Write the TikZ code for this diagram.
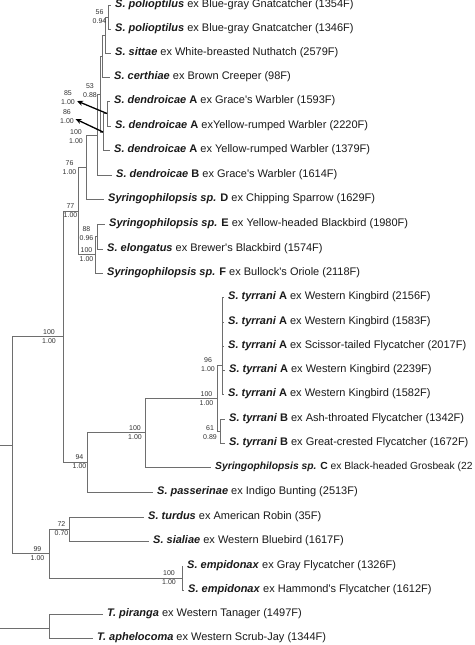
\documentclass[tikz,border=0pt]{standalone}
\usepackage{fontspec}
\setmainfont{Liberation Sans}
\usetikzlibrary{arrows.meta}
\newcommand\spn[1]{\textbf{\textit{#1}}}
\newcommand\cla[1]{\textbf{#1}}
\newcommand\apo{\textquotesingle}
\definecolor{branchgray}{HTML}{6E6E6E}
\definecolor{txt}{HTML}{1A1A1A}
\definecolor{suptxt}{HTML}{333333}
\begin{document}
\begin{tikzpicture}[x=1pt,y=-1pt,
  leaf/.style={anchor=west,inner xsep=4pt,inner ysep=1pt,text=txt,font=\fontsize{11}{13}\selectfont},
  sup/.style={align=center,inner sep=0.5pt,text=suptxt,font=\fontsize{7}{9}\selectfont},
  br/.style={draw=branchgray,line width=0.8pt},
  arr/.style={draw=black,line width=1.3pt,-{Stealth[length=6pt,width=5pt]}}]
\fill[white] (0,0) rectangle (474,645);
\useasboundingbox (0,0) rectangle (474,645);
% leaves
\node[leaf] (L1) at (111,5) {\spn{S. polioptilus} ex Blue-gray Gnatcatcher (1354F)};
\node[leaf] (L2) at (111,29) {\spn{S. polioptilus} ex Blue-gray Gnatcatcher (1346F)};
\node[leaf] (L3) at (111,53) {\spn{S. sittae} ex White-breasted Nuthatch (2579F)};
\node[leaf] (L4) at (110,77) {\spn{S. certhiae} ex Brown Creeper (98F)};
\node[leaf] (L5) at (110,101) {\spn{S. dendroicae} \cla{A} ex Grace\apo s Warbler (1593F)};
\node[leaf] (L6) at (111,126) {\spn{S. dendroicae} \cla{A} exYellow-rumped Warbler (2220F)};
\node[leaf] (L7) at (110,150) {\spn{S. dendroicae} \cla{A} ex Yellow-rumped Warbler (1379F)};
\node[leaf] (L8) at (112,175) {\spn{S. dendroicae} \cla{B} ex Grace\apo s Warbler (1614F)};
\node[leaf] (L9) at (104,199) {\spn{Syringophilopsis sp.} \cla{D} ex Chipping Sparrow (1629F)};
\node[leaf] (L10) at (105,224) {\spn{Syringophilopsis sp.} \cla{E} ex Yellow-headed Blackbird (1980F)};
\node[leaf] (L11) at (103,249) {\spn{S. elongatus} ex Brewer\apo s Blackbird (1574F)};
\node[leaf] (L12) at (103,273) {\spn{Syringophilopsis sp.} \cla{F} ex Bullock\apo s Oriole (2118F)};
\node[leaf] (L13) at (224,297) {\spn{S. tyrrani} \cla{A} ex Western Kingbird (2156F)};
\node[leaf] (L14) at (224,322) {\spn{S. tyrrani} \cla{A} ex Western Kingbird (1583F)};
\node[leaf] (L15) at (224,346) {\spn{S. tyrrani} \cla{A} ex Scissor-tailed Flycatcher (2017F)};
\node[leaf] (L16) at (225,370) {\spn{S. tyrrani} \cla{A} ex Western Kingbird (2239F)};
\node[leaf] (L17) at (224,394) {\spn{S. tyrrani} \cla{A} ex Western Kingbird (1582F)};
\node[leaf] (L18) at (225,419) {\spn{S. tyrrani} \cla{B} ex Ash-throated Flycatcher (1342F)};
\node[leaf] (L19) at (225,443) {\spn{S. tyrrani} \cla{B} ex Great-crested Flycatcher (1672F)};
\node[leaf,font=\fontsize{10.3}{13}\selectfont] (L20) at (211,467) {\spn{Syringophilopsis sp.} \cla{C} ex Black-headed Grosbeak (22};
\node[leaf] (L21) at (153,492) {\spn{S. passerinae} ex Indigo Bunting (2513F)};
\node[leaf] (L22) at (144,517) {\spn{S. turdus} ex American Robin (35F)};
\node[leaf] (L23) at (149,541) {\spn{S. sialiae} ex Western Bluebird (1617F)};
\node[leaf] (L24) at (183,566) {\spn{S. empidonax} ex Gray Flycatcher (1326F)};
\node[leaf] (L25) at (184,590) {\spn{S. empidonax} ex Hammond\apo s Flycatcher (1612F)};
\node[leaf] (L26) at (103,614) {\spn{T. piranga} ex Western Tanager (1497F)};
\node[leaf] (L27) at (93,638) {\spn{T. aphelocoma} ex Western Scrub-Jay (1344F)};
% internal nodes
\coordinate (P56) at (108,17);
\coordinate (Psit) at (105,35);
\coordinate (Pcer) at (102,56);
\coordinate (P85) at (107,113.5);
\coordinate (P86) at (103,132);
\coordinate (P53) at (100,94);
\coordinate (P100a) at (97,135);
\coordinate (P76) at (86,167);
\coordinate (P88) at (97,236.5);
\coordinate (PEF) at (95,254.5);
\coordinate (P77) at (78,211);
\coordinate (PA) at (222,365);
\coordinate (P61) at (220,431);
\coordinate (P100d) at (217,398);
\coordinate (P100c) at (145,432.5);
\coordinate (P94) at (87,462);
\coordinate (P100b) at (63,336.5);
\coordinate (P72) at (69,529);
\coordinate (Pemp) at (182,578);
\coordinate (P99) at (49,553.5);
\coordinate (Pin) at (12,445);
\coordinate (Pout) at (49,628);
\coordinate (Root) at (-3,535.5);
% branches
\draw[br] (Root) |- (Pin) (Root) |- (Pout);
\draw[br] (Pin) |- (P100b) (Pin) |- (P99);
\draw[br] (P100b) |- (P77) (P100b) |- (P94);
\draw[br] (P77) |- (P76) (P77) |- (PEF);
\draw[br] (P76) |- (P100a) (P76) |- (L9.west);
\draw[br] (P100a) |- (P53) (P100a) |- (L8.west);
\draw[br] (P53) |- (Pcer) (P53) |- (P86);
\draw[br] (Pcer) |- (Psit) (Pcer) |- (L4.west);
\draw[br] (Psit) |- (P56) (Psit) |- (L3.west);
\draw[br] (P56) |- (L1.west) (P56) |- (L2.west);
\draw[br] (P86) |- (P85) (P86) |- (L7.west);
\draw[br] (P85) |- (L5.west) (P85) |- (L6.west);
\draw[br] (PEF) |- (P88) (PEF) |- (L12.west);
\draw[br] (P88) |- (L10.west) (P88) |- (L11.west);
\draw[br] (P94) |- (P100c) (P94) |- (L21.west);
\draw[br] (P100c) |- (P100d) (P100c) |- (L20.west);
\draw[br] (P100d) |- (PA) (P100d) |- (P61);
\draw[br] (PA) |- (L13.west) (PA) |- (L14.west) (PA) |- (L15.west) (PA) |- (L16.west) (PA) |- (L17.west);
\draw[br] (P61) |- (L18.west) (P61) |- (L19.west);
\draw[br] (P99) |- (P72) (P99) |- (Pemp);
\draw[br] (P72) |- (L22.west) (P72) |- (L23.west);
\draw[br] (Pemp) |- (L24.west) (Pemp) |- (L25.west);
\draw[br] (Pout) |- (L26.west) (Pout) |- (L27.west);
% support values
\node[sup] (S56) at (99.5,16.5) {56\\0.94};
\node[sup] (S53) at (90,91) {53\\0.88};
\node[sup] (S85) at (68,97.5) {85\\1.00};
\node[sup] (S86) at (67,117) {86\\1.00};
\node[sup] (S100a) at (76,136.5) {100\\1.00};
\node[sup] (S76) at (69.5,167.5) {76\\1.00};
\node[sup] (S77) at (70.5,210.5) {77\\1.00};
\node[sup] (S88) at (86.5,234) {88\\0.96};
\node[sup] (S100e) at (86.5,254.5) {100\\1.00};
\node[sup] (S100b) at (49,337) {100\\1.00};
\node[sup] (S94) at (79.5,462) {94\\1.00};
\node[sup] (S100c) at (135,432.5) {100\\1.00};
\node[sup] (S100d) at (206.5,398.5) {100\\1.00};
\node[sup] (S96) at (208,364.5) {96\\1.00};
\node[sup] (S61) at (210,432.5) {61\\0.89};
\node[sup] (S72) at (61.5,528.5) {72\\0.70};
\node[sup] (S99) at (37.5,554) {99\\1.00};
\node[sup] (S100f) at (169,578) {100\\1.00};
% arrows
\draw[arr] (P85) -- ([xshift=1.5pt,yshift=-3.5pt]S85.east);
\draw[arr] (P86) -- ([xshift=1pt,yshift=-2pt]S86.east);
\end{tikzpicture}
\end{document}
